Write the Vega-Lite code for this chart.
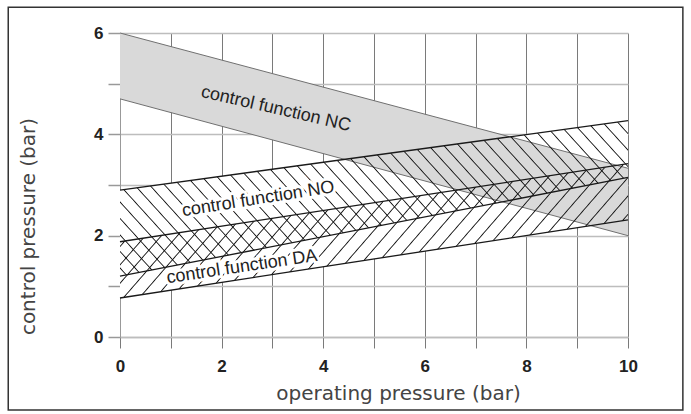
{
  "$schema": "https://vega.github.io/schema/vega-lite/v6.json",
  "width": 508,
  "height": 304,
  "autosize": {"type": "none"},
  "padding": {"left": 120, "top": 33, "right": 63, "bottom": 77},
  "background": "white",
  "config": {
    "view": {"stroke": null},
    "axis": {
      "labelFont": "Liberation Sans",
      "labelFontWeight": "bold",
      "labelColor": "#222222",
      "titleFont": "DejaVu Sans",
      "titleFontSize": 20,
      "titleFontWeight": "normal",
      "titleColor": "#444444"
    },
    "axisX": {
      "domainColor": "#bdbdbd",
      "domainWidth": 1.5,
      "gridColor": "#7a7a7a",
      "gridWidth": 1,
      "gridOpacity": 1,
      "tickColor": "#7a7a7a",
      "tickWidth": 1,
      "tickSize": 11,
      "labelPadding": 10,
      "labelFlush": false,
      "titleX": 278,
      "titleY": 56,
      "titleAlign": "center",
      "titleBaseline": "middle"
    },
    "axisY": {
      "domainColor": "#999999",
      "domainWidth": 1,
      "gridColor": "#bdbdbd",
      "gridWidth": 1.5,
      "gridOpacity": 1,
      "tickColor": "#999999",
      "tickWidth": 1.5,
      "tickSize": 12,
      "labelPadding": 5,
      "labelFlush": false,
      "titleX": -92,
      "titleY": 193,
      "titleAngle": -90,
      "titleAlign": "center",
      "titleBaseline": "middle"
    }
  },
  "datasets": {
    "bands": [
      {"band": "NC", "x": 0, "lo": 4.7, "hi": 6.0},
      {"band": "NC", "x": 10, "lo": 2.0, "hi": 3.33},
      {"band": "NO", "x": 0, "lo": 1.2, "hi": 2.9},
      {"band": "NO", "x": 10, "lo": 3.15, "hi": 4.27},
      {"band": "DA", "x": 0, "lo": 0.77, "hi": 1.88},
      {"band": "DA", "x": 10, "lo": 2.31, "hi": 3.42}
    ]
  },
  "layer": [
    {
      "data": {"name": "bands"},
      "transform": [{"filter": "datum.band !== 'NC'"}],
      "mark": {"type": "area", "fill": "white", "opacity": 1},
      "encoding": {
        "x": {"field": "x", "type": "quantitative", "scale": {"domain": [0, 10], "nice": false, "zero": false}, "title": "operating pressure (bar)",
              "axis": {"values": [0, 1, 2, 3, 4, 5, 6, 7, 8, 9, 10], "labelExpr": "datum.value % 2 === 0 ? datum.label : ''", "grid": true, "labelFontSize": 17}},
        "y": {"field": "lo", "type": "quantitative", "scale": {"domain": [0, 6], "nice": false, "zero": false}, "title": "control pressure (bar)",
              "axis": {"values": [0, 1, 2, 3, 4, 5, 6], "labelExpr": "datum.value % 2 === 0 ? datum.label : ''", "grid": true, "labelFontSize": 17}},
        "y2": {"field": "hi"},
        "detail": {"field": "band"}
      }
    },
    {
      "data": {"name": "bands"},
      "transform": [{"filter": "datum.band === 'NC'"}],
      "mark": {"type": "area", "fill": "#d9d9d9", "opacity": 1},
      "encoding": {
        "x": {"field": "x", "type": "quantitative", "title": "operating pressure (bar)"},
        "y": {"field": "lo", "type": "quantitative", "title": "control pressure (bar)"},
        "y2": {"field": "hi"}
      }
    },
    {
      "data": {"name": "bands"},
      "transform": [{"filter": "datum.band === 'NC'"}],
      "mark": {"type": "line", "color": "#707070", "strokeWidth": 1},
      "encoding": {
        "x": {"field": "x", "type": "quantitative", "title": "operating pressure (bar)"},
        "y": {"field": "hi", "type": "quantitative", "title": "control pressure (bar)"}
      }
    },
    {
      "data": {"name": "bands"},
      "transform": [{"filter": "datum.band === 'NC'"}],
      "mark": {"type": "line", "color": "#707070", "strokeWidth": 1},
      "encoding": {
        "x": {"field": "x", "type": "quantitative", "title": "operating pressure (bar)"},
        "y": {"field": "lo", "type": "quantitative", "title": "control pressure (bar)"}
      }
    },
    {
      "data": {"name": "bands"},
      "transform": [{"filter": "datum.band === 'NO'"}],
      "mark": {"type": "area", "opacity": 1, "fill": {
        "gradient": "linear", "x1": 0, "y1": 1, "x2": 1.3705, "y2": 0.6185,
        "stops": [
          {"offset":0.0084,"color":"rgba(0,0,0,0)"},{"offset":0.01,"color":"#1a1a1a"},{"offset":0.0116,"color":"rgba(0,0,0,0)"},
          {"offset":0.0284,"color":"rgba(0,0,0,0)"},{"offset":0.03,"color":"#1a1a1a"},{"offset":0.0316,"color":"rgba(0,0,0,0)"},
          {"offset":0.0484,"color":"rgba(0,0,0,0)"},{"offset":0.05,"color":"#1a1a1a"},{"offset":0.0516,"color":"rgba(0,0,0,0)"},
          {"offset":0.0684,"color":"rgba(0,0,0,0)"},{"offset":0.07,"color":"#1a1a1a"},{"offset":0.0716,"color":"rgba(0,0,0,0)"},
          {"offset":0.0884,"color":"rgba(0,0,0,0)"},{"offset":0.09,"color":"#1a1a1a"},{"offset":0.0916,"color":"rgba(0,0,0,0)"},
          {"offset":0.1084,"color":"rgba(0,0,0,0)"},{"offset":0.11,"color":"#1a1a1a"},{"offset":0.1116,"color":"rgba(0,0,0,0)"},
          {"offset":0.1284,"color":"rgba(0,0,0,0)"},{"offset":0.13,"color":"#1a1a1a"},{"offset":0.1316,"color":"rgba(0,0,0,0)"},
          {"offset":0.1484,"color":"rgba(0,0,0,0)"},{"offset":0.15,"color":"#1a1a1a"},{"offset":0.1516,"color":"rgba(0,0,0,0)"},
          {"offset":0.1684,"color":"rgba(0,0,0,0)"},{"offset":0.17,"color":"#1a1a1a"},{"offset":0.1716,"color":"rgba(0,0,0,0)"},
          {"offset":0.1884,"color":"rgba(0,0,0,0)"},{"offset":0.19,"color":"#1a1a1a"},{"offset":0.1916,"color":"rgba(0,0,0,0)"},
          {"offset":0.2084,"color":"rgba(0,0,0,0)"},{"offset":0.21,"color":"#1a1a1a"},{"offset":0.2116,"color":"rgba(0,0,0,0)"},
          {"offset":0.2284,"color":"rgba(0,0,0,0)"},{"offset":0.23,"color":"#1a1a1a"},{"offset":0.2316,"color":"rgba(0,0,0,0)"},
          {"offset":0.2484,"color":"rgba(0,0,0,0)"},{"offset":0.25,"color":"#1a1a1a"},{"offset":0.2516,"color":"rgba(0,0,0,0)"},
          {"offset":0.2684,"color":"rgba(0,0,0,0)"},{"offset":0.27,"color":"#1a1a1a"},{"offset":0.2716,"color":"rgba(0,0,0,0)"},
          {"offset":0.2884,"color":"rgba(0,0,0,0)"},{"offset":0.29,"color":"#1a1a1a"},{"offset":0.2916,"color":"rgba(0,0,0,0)"},
          {"offset":0.3084,"color":"rgba(0,0,0,0)"},{"offset":0.31,"color":"#1a1a1a"},{"offset":0.3116,"color":"rgba(0,0,0,0)"},
          {"offset":0.3284,"color":"rgba(0,0,0,0)"},{"offset":0.33,"color":"#1a1a1a"},{"offset":0.3316,"color":"rgba(0,0,0,0)"},
          {"offset":0.3484,"color":"rgba(0,0,0,0)"},{"offset":0.35,"color":"#1a1a1a"},{"offset":0.3516,"color":"rgba(0,0,0,0)"},
          {"offset":0.3684,"color":"rgba(0,0,0,0)"},{"offset":0.37,"color":"#1a1a1a"},{"offset":0.3716,"color":"rgba(0,0,0,0)"},
          {"offset":0.3884,"color":"rgba(0,0,0,0)"},{"offset":0.39,"color":"#1a1a1a"},{"offset":0.3916,"color":"rgba(0,0,0,0)"},
          {"offset":0.4084,"color":"rgba(0,0,0,0)"},{"offset":0.41,"color":"#1a1a1a"},{"offset":0.4116,"color":"rgba(0,0,0,0)"},
          {"offset":0.4284,"color":"rgba(0,0,0,0)"},{"offset":0.43,"color":"#1a1a1a"},{"offset":0.4316,"color":"rgba(0,0,0,0)"},
          {"offset":0.4484,"color":"rgba(0,0,0,0)"},{"offset":0.45,"color":"#1a1a1a"},{"offset":0.4516,"color":"rgba(0,0,0,0)"},
          {"offset":0.4684,"color":"rgba(0,0,0,0)"},{"offset":0.47,"color":"#1a1a1a"},{"offset":0.4716,"color":"rgba(0,0,0,0)"},
          {"offset":0.4884,"color":"rgba(0,0,0,0)"},{"offset":0.49,"color":"#1a1a1a"},{"offset":0.4916,"color":"rgba(0,0,0,0)"},
          {"offset":0.5084,"color":"rgba(0,0,0,0)"},{"offset":0.51,"color":"#1a1a1a"},{"offset":0.5116,"color":"rgba(0,0,0,0)"},
          {"offset":0.5284,"color":"rgba(0,0,0,0)"},{"offset":0.53,"color":"#1a1a1a"},{"offset":0.5316,"color":"rgba(0,0,0,0)"},
          {"offset":0.5484,"color":"rgba(0,0,0,0)"},{"offset":0.55,"color":"#1a1a1a"},{"offset":0.5516,"color":"rgba(0,0,0,0)"},
          {"offset":0.5684,"color":"rgba(0,0,0,0)"},{"offset":0.57,"color":"#1a1a1a"},{"offset":0.5716,"color":"rgba(0,0,0,0)"},
          {"offset":0.5884,"color":"rgba(0,0,0,0)"},{"offset":0.59,"color":"#1a1a1a"},{"offset":0.5916,"color":"rgba(0,0,0,0)"},
          {"offset":0.6084,"color":"rgba(0,0,0,0)"},{"offset":0.61,"color":"#1a1a1a"},{"offset":0.6116,"color":"rgba(0,0,0,0)"},
          {"offset":0.6284,"color":"rgba(0,0,0,0)"},{"offset":0.63,"color":"#1a1a1a"},{"offset":0.6316,"color":"rgba(0,0,0,0)"},
          {"offset":0.6484,"color":"rgba(0,0,0,0)"},{"offset":0.65,"color":"#1a1a1a"},{"offset":0.6516,"color":"rgba(0,0,0,0)"},
          {"offset":0.6684,"color":"rgba(0,0,0,0)"},{"offset":0.67,"color":"#1a1a1a"},{"offset":0.6716,"color":"rgba(0,0,0,0)"},
          {"offset":0.6884,"color":"rgba(0,0,0,0)"},{"offset":0.69,"color":"#1a1a1a"},{"offset":0.6916,"color":"rgba(0,0,0,0)"},
          {"offset":0.7084,"color":"rgba(0,0,0,0)"},{"offset":0.71,"color":"#1a1a1a"},{"offset":0.7116,"color":"rgba(0,0,0,0)"},
          {"offset":0.7284,"color":"rgba(0,0,0,0)"},{"offset":0.73,"color":"#1a1a1a"},{"offset":0.7316,"color":"rgba(0,0,0,0)"},
          {"offset":0.7484,"color":"rgba(0,0,0,0)"},{"offset":0.75,"color":"#1a1a1a"},{"offset":0.7516,"color":"rgba(0,0,0,0)"},
          {"offset":0.7684,"color":"rgba(0,0,0,0)"},{"offset":0.77,"color":"#1a1a1a"},{"offset":0.7716,"color":"rgba(0,0,0,0)"},
          {"offset":0.7884,"color":"rgba(0,0,0,0)"},{"offset":0.79,"color":"#1a1a1a"},{"offset":0.7916,"color":"rgba(0,0,0,0)"},
          {"offset":0.8084,"color":"rgba(0,0,0,0)"},{"offset":0.81,"color":"#1a1a1a"},{"offset":0.8116,"color":"rgba(0,0,0,0)"},
          {"offset":0.8284,"color":"rgba(0,0,0,0)"},{"offset":0.83,"color":"#1a1a1a"},{"offset":0.8316,"color":"rgba(0,0,0,0)"},
          {"offset":0.8484,"color":"rgba(0,0,0,0)"},{"offset":0.85,"color":"#1a1a1a"},{"offset":0.8516,"color":"rgba(0,0,0,0)"},
          {"offset":0.8684,"color":"rgba(0,0,0,0)"},{"offset":0.87,"color":"#1a1a1a"},{"offset":0.8716,"color":"rgba(0,0,0,0)"}
        ]}},
      "encoding": {
        "x": {"field": "x", "type": "quantitative", "title": "operating pressure (bar)"},
        "y": {"field": "lo", "type": "quantitative", "title": "control pressure (bar)"},
        "y2": {"field": "hi"}
      }
    },
    {
      "data": {"name": "bands"},
      "transform": [{"filter": "datum.band === 'DA'"}],
      "mark": {"type": "area", "opacity": 1, "fill": {
        "gradient": "linear", "x1": 0, "y1": 0, "x2": 1.4958, "y2": 0.3438,
        "stops": [
          {"offset":0.0085,"color":"rgba(0,0,0,0)"},{"offset":0.01,"color":"#1a1a1a"},{"offset":0.0115,"color":"rgba(0,0,0,0)"},
          {"offset":0.0285,"color":"rgba(0,0,0,0)"},{"offset":0.03,"color":"#1a1a1a"},{"offset":0.0315,"color":"rgba(0,0,0,0)"},
          {"offset":0.0485,"color":"rgba(0,0,0,0)"},{"offset":0.05,"color":"#1a1a1a"},{"offset":0.0515,"color":"rgba(0,0,0,0)"},
          {"offset":0.0685,"color":"rgba(0,0,0,0)"},{"offset":0.07,"color":"#1a1a1a"},{"offset":0.0715,"color":"rgba(0,0,0,0)"},
          {"offset":0.0885,"color":"rgba(0,0,0,0)"},{"offset":0.09,"color":"#1a1a1a"},{"offset":0.0915,"color":"rgba(0,0,0,0)"},
          {"offset":0.1085,"color":"rgba(0,0,0,0)"},{"offset":0.11,"color":"#1a1a1a"},{"offset":0.1115,"color":"rgba(0,0,0,0)"},
          {"offset":0.1285,"color":"rgba(0,0,0,0)"},{"offset":0.13,"color":"#1a1a1a"},{"offset":0.1315,"color":"rgba(0,0,0,0)"},
          {"offset":0.1485,"color":"rgba(0,0,0,0)"},{"offset":0.15,"color":"#1a1a1a"},{"offset":0.1515,"color":"rgba(0,0,0,0)"},
          {"offset":0.1685,"color":"rgba(0,0,0,0)"},{"offset":0.17,"color":"#1a1a1a"},{"offset":0.1715,"color":"rgba(0,0,0,0)"},
          {"offset":0.1885,"color":"rgba(0,0,0,0)"},{"offset":0.19,"color":"#1a1a1a"},{"offset":0.1915,"color":"rgba(0,0,0,0)"},
          {"offset":0.2085,"color":"rgba(0,0,0,0)"},{"offset":0.21,"color":"#1a1a1a"},{"offset":0.2115,"color":"rgba(0,0,0,0)"},
          {"offset":0.2285,"color":"rgba(0,0,0,0)"},{"offset":0.23,"color":"#1a1a1a"},{"offset":0.2315,"color":"rgba(0,0,0,0)"},
          {"offset":0.2485,"color":"rgba(0,0,0,0)"},{"offset":0.25,"color":"#1a1a1a"},{"offset":0.2515,"color":"rgba(0,0,0,0)"},
          {"offset":0.2685,"color":"rgba(0,0,0,0)"},{"offset":0.27,"color":"#1a1a1a"},{"offset":0.2715,"color":"rgba(0,0,0,0)"},
          {"offset":0.2885,"color":"rgba(0,0,0,0)"},{"offset":0.29,"color":"#1a1a1a"},{"offset":0.2915,"color":"rgba(0,0,0,0)"},
          {"offset":0.3085,"color":"rgba(0,0,0,0)"},{"offset":0.31,"color":"#1a1a1a"},{"offset":0.3115,"color":"rgba(0,0,0,0)"},
          {"offset":0.3285,"color":"rgba(0,0,0,0)"},{"offset":0.33,"color":"#1a1a1a"},{"offset":0.3315,"color":"rgba(0,0,0,0)"},
          {"offset":0.3485,"color":"rgba(0,0,0,0)"},{"offset":0.35,"color":"#1a1a1a"},{"offset":0.3515,"color":"rgba(0,0,0,0)"},
          {"offset":0.3685,"color":"rgba(0,0,0,0)"},{"offset":0.37,"color":"#1a1a1a"},{"offset":0.3715,"color":"rgba(0,0,0,0)"},
          {"offset":0.3885,"color":"rgba(0,0,0,0)"},{"offset":0.39,"color":"#1a1a1a"},{"offset":0.3915,"color":"rgba(0,0,0,0)"},
          {"offset":0.4085,"color":"rgba(0,0,0,0)"},{"offset":0.41,"color":"#1a1a1a"},{"offset":0.4115,"color":"rgba(0,0,0,0)"},
          {"offset":0.4285,"color":"rgba(0,0,0,0)"},{"offset":0.43,"color":"#1a1a1a"},{"offset":0.4315,"color":"rgba(0,0,0,0)"},
          {"offset":0.4485,"color":"rgba(0,0,0,0)"},{"offset":0.45,"color":"#1a1a1a"},{"offset":0.4515,"color":"rgba(0,0,0,0)"},
          {"offset":0.4685,"color":"rgba(0,0,0,0)"},{"offset":0.47,"color":"#1a1a1a"},{"offset":0.4715,"color":"rgba(0,0,0,0)"},
          {"offset":0.4885,"color":"rgba(0,0,0,0)"},{"offset":0.49,"color":"#1a1a1a"},{"offset":0.4915,"color":"rgba(0,0,0,0)"},
          {"offset":0.5085,"color":"rgba(0,0,0,0)"},{"offset":0.51,"color":"#1a1a1a"},{"offset":0.5115,"color":"rgba(0,0,0,0)"},
          {"offset":0.5285,"color":"rgba(0,0,0,0)"},{"offset":0.53,"color":"#1a1a1a"},{"offset":0.5315,"color":"rgba(0,0,0,0)"},
          {"offset":0.5485,"color":"rgba(0,0,0,0)"},{"offset":0.55,"color":"#1a1a1a"},{"offset":0.5515,"color":"rgba(0,0,0,0)"},
          {"offset":0.5685,"color":"rgba(0,0,0,0)"},{"offset":0.57,"color":"#1a1a1a"},{"offset":0.5715,"color":"rgba(0,0,0,0)"},
          {"offset":0.5885,"color":"rgba(0,0,0,0)"},{"offset":0.59,"color":"#1a1a1a"},{"offset":0.5915,"color":"rgba(0,0,0,0)"},
          {"offset":0.6085,"color":"rgba(0,0,0,0)"},{"offset":0.61,"color":"#1a1a1a"},{"offset":0.6115,"color":"rgba(0,0,0,0)"},
          {"offset":0.6285,"color":"rgba(0,0,0,0)"},{"offset":0.63,"color":"#1a1a1a"},{"offset":0.6315,"color":"rgba(0,0,0,0)"},
          {"offset":0.6485,"color":"rgba(0,0,0,0)"},{"offset":0.65,"color":"#1a1a1a"},{"offset":0.6515,"color":"rgba(0,0,0,0)"},
          {"offset":0.6685,"color":"rgba(0,0,0,0)"},{"offset":0.67,"color":"#1a1a1a"},{"offset":0.6715,"color":"rgba(0,0,0,0)"},
          {"offset":0.6885,"color":"rgba(0,0,0,0)"},{"offset":0.69,"color":"#1a1a1a"},{"offset":0.6915,"color":"rgba(0,0,0,0)"},
          {"offset":0.7085,"color":"rgba(0,0,0,0)"},{"offset":0.71,"color":"#1a1a1a"},{"offset":0.7115,"color":"rgba(0,0,0,0)"},
          {"offset":0.7285,"color":"rgba(0,0,0,0)"},{"offset":0.73,"color":"#1a1a1a"},{"offset":0.7315,"color":"rgba(0,0,0,0)"},
          {"offset":0.7485,"color":"rgba(0,0,0,0)"},{"offset":0.75,"color":"#1a1a1a"},{"offset":0.7515,"color":"rgba(0,0,0,0)"},
          {"offset":0.7685,"color":"rgba(0,0,0,0)"},{"offset":0.77,"color":"#1a1a1a"},{"offset":0.7715,"color":"rgba(0,0,0,0)"},
          {"offset":0.7885,"color":"rgba(0,0,0,0)"},{"offset":0.79,"color":"#1a1a1a"},{"offset":0.7915,"color":"rgba(0,0,0,0)"}
        ]}},
      "encoding": {
        "x": {"field": "x", "type": "quantitative", "title": "operating pressure (bar)"},
        "y": {"field": "lo", "type": "quantitative", "title": "control pressure (bar)"},
        "y2": {"field": "hi"}
      }
    },
    {
      "data": {"name": "bands"},
      "transform": [{"filter": "datum.band !== 'NC'"}],
      "mark": {"type": "line", "color": "#1a1a1a", "strokeWidth": 1.3},
      "encoding": {
        "x": {"field": "x", "type": "quantitative", "title": "operating pressure (bar)"},
        "y": {"field": "hi", "type": "quantitative", "title": "control pressure (bar)"},
        "detail": {"field": "band"}
      }
    },
    {
      "data": {"name": "bands"},
      "transform": [{"filter": "datum.band !== 'NC'"}],
      "mark": {"type": "line", "color": "#1a1a1a", "strokeWidth": 1.3},
      "encoding": {
        "x": {"field": "x", "type": "quantitative", "title": "operating pressure (bar)"},
        "y": {"field": "lo", "type": "quantitative", "title": "control pressure (bar)"},
        "detail": {"field": "band"}
      }
    },
    {
      "data": {"values": [{"label": "control function NC", "x": 3.07, "y": 4.5}]},
      "mark": {"type": "text", "font": "Liberation Sans", "fontSize": 18, "color": "#222222", "angle": 13, "align": "center", "baseline": "middle"},
      "encoding": {
        "x": {"field": "x", "type": "quantitative", "title": "operating pressure (bar)"},
        "y": {"field": "y", "type": "quantitative", "title": "control pressure (bar)"},
        "text": {"field": "label"}
      }
    },
    {
      "data": {"values": [{"label": "control function NO", "x": 2.72, "y": 2.72}]},
      "layer": [
        {"mark": {"type": "text", "font": "Liberation Sans", "fontSize": 18, "fill": "white", "stroke": "white", "strokeWidth": 6, "angle": -9, "align": "center", "baseline": "middle"}},
        {"mark": {"type": "text", "font": "Liberation Sans", "fontSize": 18, "color": "#222222", "angle": -9, "align": "center", "baseline": "middle"}}
      ],
      "encoding": {
        "x": {"field": "x", "type": "quantitative", "title": "operating pressure (bar)"},
        "y": {"field": "y", "type": "quantitative", "title": "control pressure (bar)"},
        "text": {"field": "label"}
      }
    },
    {
      "data": {"values": [{"label": "control function DA", "x": 2.4, "y": 1.38}]},
      "layer": [
        {"mark": {"type": "text", "font": "Liberation Sans", "fontSize": 18, "fill": "white", "stroke": "white", "strokeWidth": 6, "angle": -8.5, "align": "center", "baseline": "middle"}},
        {"mark": {"type": "text", "font": "Liberation Sans", "fontSize": 18, "color": "#222222", "angle": -8.5, "align": "center", "baseline": "middle"}}
      ],
      "encoding": {
        "x": {"field": "x", "type": "quantitative", "title": "operating pressure (bar)"},
        "y": {"field": "y", "type": "quantitative", "title": "control pressure (bar)"},
        "text": {"field": "label"}
      }
    },
    {
      "data": {"values": [{}]},
      "mark": {"type": "rect", "filled": false, "stroke": "#333333", "strokeWidth": 1.5},
      "encoding": {
        "x": {"datum": -2.2, "type": "quantitative"},
        "x2": {"datum": 11.08},
        "y": {"datum": -1.44, "type": "quantitative"},
        "y2": {"datum": 6.51}
      }
    }
  ]
}
